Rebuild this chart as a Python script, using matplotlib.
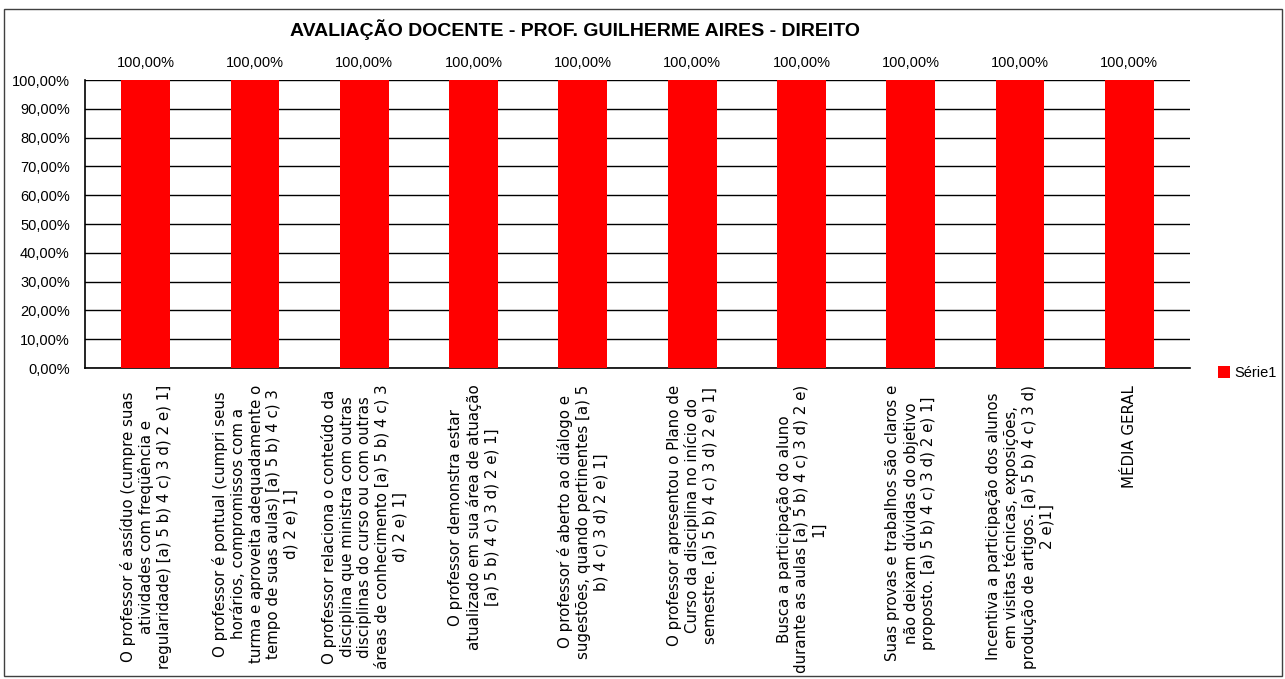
import matplotlib
matplotlib.use("Agg")
import matplotlib.pyplot as plt
from matplotlib.patches import Rectangle
from matplotlib.ticker import FuncFormatter

# dados
titulo = "AVALIAÇÃO DOCENTE - PROF. GUILHERME AIRES - DIREITO"
serie = "Série1"
perguntas = [
    "O professor é assíduo (cumpre suas\natividades com freqüência e\nregularidade) [a) 5 b) 4 c) 3 d) 2 e) 1]",
    "O professor é pontual (cumpri seus\nhorários, compromissos com a\nturma e aproveita adequadamente o\ntempo de suas aulas) [a) 5 b) 4 c) 3\nd) 2 e) 1]",
    "O professor relaciona o conteúdo da\ndisciplina que ministra com outras\ndisciplinas do curso ou com outras\náreas de conhecimento [a) 5 b) 4 c) 3\nd) 2 e) 1]",
    "O professor demonstra estar\natualizado em sua área de atuação\n[a) 5 b) 4 c) 3 d) 2 e) 1]",
    "O professor é aberto ao diálogo e\nsugestões, quando pertinentes [a) 5\nb) 4 c) 3 d) 2 e) 1]",
    "O professor apresentou o Plano de\nCurso da disciplina no início do\nsemestre. [a) 5 b) 4 c) 3 d) 2 e) 1]",
    "Busca a participação do aluno\ndurante as aulas [a) 5 b) 4 c) 3 d) 2 e)\n1]",
    "Suas provas e trabalhos são claros e\nnão deixam dúvidas do objetivo\nproposto. [a) 5 b) 4 c) 3 d) 2 e) 1]",
    "Incentiva a participação dos alunos\nem visitas técnicas, exposições,\nprodução de artigos. [a) 5 b) 4 c) 3 d)\n2 e)1]",
    "MÉDIA GERAL",
]
valores = [1.0, 1.0, 1.0, 1.0, 1.0, 1.0, 1.0, 1.0, 1.0, 1.0]

pct = lambda v: f"{v * 100:.2f}%".replace(".", ",")

plt.rcParams["font.family"] = ["Liberation Sans", "DejaVu Sans"]

fig = plt.figure(figsize=(12.85, 6.79), dpi=100)
ax = fig.add_axes([85 / 1285, 1 - 368 / 679, 1105 / 1285, 288 / 679])

x = list(range(len(valores)))
ax.bar(x, valores, width=0.447, color="#ff0000", label=serie, zorder=3)

for xi, v in zip(x, valores):
    ax.text(xi, v + 0.035, pct(v), ha="center", va="bottom", fontsize=10.5)

ax.set_xlim(-0.555, len(valores) - 1 + 0.555)
ax.set_ylim(0, 1.0)
ax.set_yticks([i / 10 for i in range(11)])
ax.yaxis.set_major_formatter(FuncFormatter(lambda v, p: pct(v)))
ax.tick_params(axis="y", length=0, labelsize=10.5, pad=11)
ax.grid(axis="y", color="black", linewidth=1, zorder=1)

ax.set_xticks(x)
ax.set_xticklabels(perguntas, rotation=90, ha="center", va="top",
                   multialignment="center", fontsize=10.8, linespacing=1.2,
                   family=["DejaVu Sans"])
ax.tick_params(axis="x", length=0, pad=12)

for s in ["top", "right"]:
    ax.spines[s].set_visible(False)
for s in ["left", "bottom"]:
    ax.spines[s].set_color("black")
    ax.spines[s].set_linewidth(1.2)

ax.legend(loc="center left", bbox_to_anchor=(1205 / 1285, 1 - 373 / 679),
          bbox_transform=fig.transFigure, frameon=False, fontsize=10.5,
          handlelength=0.8, handleheight=0.8, handletextpad=0.3)

fig.text(575 / 1285, 1 - 30 / 679, titulo, ha="center", va="center",
         fontsize=14, fontweight="bold",
         family=["Liberation Sans Narrow", "Liberation Sans"])

fig.patches.append(Rectangle((4 / 1285, 3 / 679), 1278 / 1285, 667 / 679,
                             transform=fig.transFigure, fill=False,
                             edgecolor="#404040", linewidth=1))

fig.savefig("out.png", dpi=100)
